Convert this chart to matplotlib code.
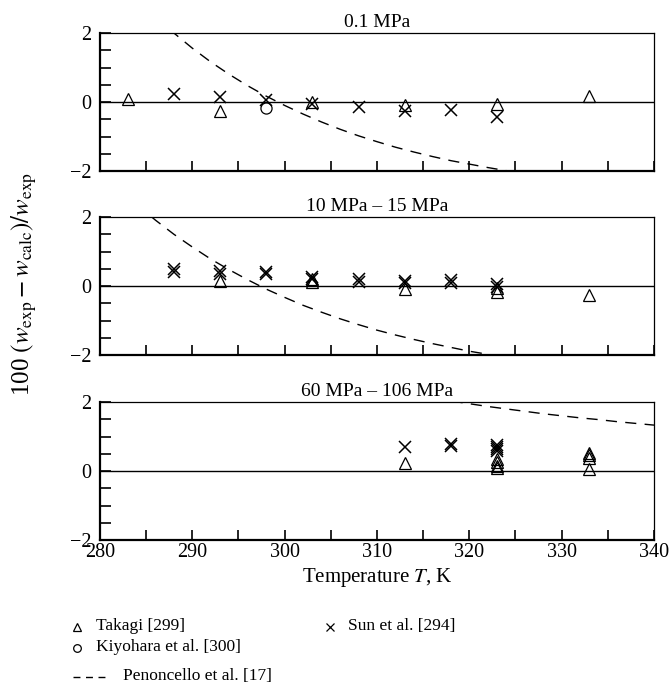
import matplotlib
matplotlib.use("Agg")
import matplotlib.pyplot as plt
from matplotlib.lines import Line2D
from matplotlib.ticker import MultipleLocator

plt.rcParams['font.family'] = 'Liberation Serif'
plt.rcParams['mathtext.fontset'] = 'stix'
plt.rcParams['font.size'] = 14

# 0.1 MPa
takagi_T1 = [283, 293, 303, 313, 323, 333]
takagi_d1 = [0.10, -0.25, 0.00, -0.10, -0.05, 0.17]
kiyohara_T1 = [298]
kiyohara_d1 = [-0.18]
sun_T1 = [288, 293, 298, 303, 308, 313, 318, 323]
sun_d1 = [0.22, 0.15, 0.07, -0.06, -0.15, -0.25, -0.23, -0.43]
pen_T1 = [286, 288, 290, 292, 294, 296, 298, 300, 302, 304, 306, 308, 310,
          312, 314, 316, 318, 320, 322, 324, 326]
pen_d1 = [2.48, 2.00, 1.56, 1.16, 0.80, 0.47, 0.17, -0.10, -0.35, -0.58,
          -0.79, -0.98, -1.15, -1.31, -1.45, -1.58, -1.70, -1.80, -1.90,
          -1.99, -2.07]

# 10 MPa - 15 MPa
takagi_T2 = [293, 303, 303, 313, 323, 323, 333]
takagi_d2 = [0.15, 0.13, 0.20, -0.08, -0.17, -0.05, -0.27]
sun_T2 = [288, 288, 293, 293, 298, 298, 303, 303, 308, 308, 313, 313,
          318, 318, 323, 323]
sun_d2 = [0.42, 0.48, 0.35, 0.43, 0.35, 0.40, 0.20, 0.27, 0.13, 0.19,
          0.08, 0.15, 0.10, 0.16, -0.04, 0.05]
pen_T2 = [284, 286, 288, 290, 292, 294, 296, 298, 300, 302, 304, 306, 308,
          310, 312, 314, 316, 318, 320, 322, 324]
pen_d2 = [2.36, 1.91, 1.50, 1.13, 0.78, 0.47, 0.18, -0.09, -0.33, -0.56,
          -0.76, -0.95, -1.12, -1.28, -1.42, -1.55, -1.67, -1.78, -1.89,
          -1.98, -2.06]

# 60 MPa - 106 MPa
takagi_T3 = [313, 323, 323, 323, 323, 333, 333, 333, 333]
takagi_d3 = [0.22, 0.08, 0.15, 0.25, 0.35, 0.07, 0.38, 0.45, 0.53]
sun_T3 = [313, 318, 318, 323, 323, 323, 323]
sun_d3 = [0.70, 0.72, 0.78, 0.58, 0.64, 0.70, 0.75]
pen_T3 = [316, 318, 320, 322, 324, 326, 328, 330, 332, 334, 336, 338, 340]
pen_d3 = [2.12, 2.03, 1.95, 1.87, 1.80, 1.73, 1.66, 1.60, 1.54, 1.49,
          1.43, 1.38, 1.33]

titles = ['0.1 MPa', '10 MPa – 15 MPa', '60 MPa – 106 MPa']

W, H = 669, 693
fig = plt.figure(figsize=(W / 100, H / 100), dpi=100)

left, right = 100, 654
tops = [33, 217, 402]
ph = 138

tri = dict(marker='^', ls='none', mfc='none', mec='k', ms=8, mew=0.9)
crs = dict(marker='x', ls='none', color='k', ms=8, mew=1.1)
circ = dict(marker='o', ls='none', mfc='none', mec='k', ms=8, mew=0.9)
dash = dict(color='k', lw=1.0, dashes=(8, 6))

panels = [
    (takagi_T1, takagi_d1, sun_T1, sun_d1, pen_T1, pen_d1),
    (takagi_T2, takagi_d2, sun_T2, sun_d2, pen_T2, pen_d2),
    (takagi_T3, takagi_d3, sun_T3, sun_d3, pen_T3, pen_d3),
]

axes = []
for i, (tT, td, sT, sd, pT, pd) in enumerate(panels):
    ax = fig.add_axes([left / W, 1 - (tops[i] + ph) / H, (right - left) / W, ph / H])
    ax.axhline(0, color='k', lw=1.0)
    ax.plot(pT, pd, **dash)
    ax.plot(tT, td, **tri)
    ax.plot(sT, sd, **crs)
    if i == 0:
        ax.plot(kiyohara_T1, kiyohara_d1, **circ)
    ax.set_xlim(280, 340)
    ax.set_ylim(-2, 2)
    ax.set_yticks([-2, 0, 2])
    ax.set_yticklabels(['−2', '0', '2'])
    ax.yaxis.set_minor_locator(MultipleLocator(0.5))
    ax.xaxis.set_major_locator(MultipleLocator(10))
    ax.xaxis.set_minor_locator(MultipleLocator(5))
    ax.tick_params(which='both', direction='in', top=False, right=False,
                   width=1.2, labelsize=14.5)
    ax.tick_params(which='both', length=8)
    ax.tick_params(axis='x', which='both', length=7)
    ax.tick_params(axis='y', pad=6)
    for s in ['left', 'bottom']:
        ax.spines[s].set_linewidth(1.6)
    for s in ['top', 'right']:
        ax.spines[s].set_linewidth(0.9)
    if i < 2:
        ax.tick_params(axis='x', labelbottom=False)
    else:
        ax.tick_params(axis='x', pad=2)
    ax.set_title(titles[i], fontsize=14, pad=4)
    axes.append(ax)

axes[2].set_xlabel('Temperature $T$, K', fontsize=15, labelpad=3)
fig.text(24 / W, 1 - 284 / H,
         r'100 $(w_{\rm exp} - w_{\rm calc})/w_{\rm exp}$',
         rotation=90, ha='center', va='center', fontsize=18)

# key below the panels, laid out in pixel units
leg = fig.add_axes([0, 0, 1, 1])
leg.set_xlim(0, W)
leg.set_ylim(H, 0)
leg.axis('off')
leg.patch.set_alpha(0)
kw = dict(fontsize=12.5, va='center', ha='left')
leg.plot([77], [627], marker='^', mfc='none', mec='k', ms=6, mew=0.9)
leg.text(96, 626, 'Takagi [299]', **kw)
leg.plot([330], [627], marker='x', color='k', ms=6, mew=0.9)
leg.text(348, 626, 'Sun et al. [294]', **kw)
leg.plot([77], [648], marker='o', mfc='none', mec='k', ms=5.5, mew=0.9)
leg.text(96, 647, 'Kiyohara et al. [300]', **kw)
leg.add_line(Line2D([73, 108], [677, 677], color='k', lw=1.0, dashes=(5, 4)))
leg.text(123, 676, 'Penoncello et al. [17]', **kw)

fig.savefig('out.png', dpi=100)
